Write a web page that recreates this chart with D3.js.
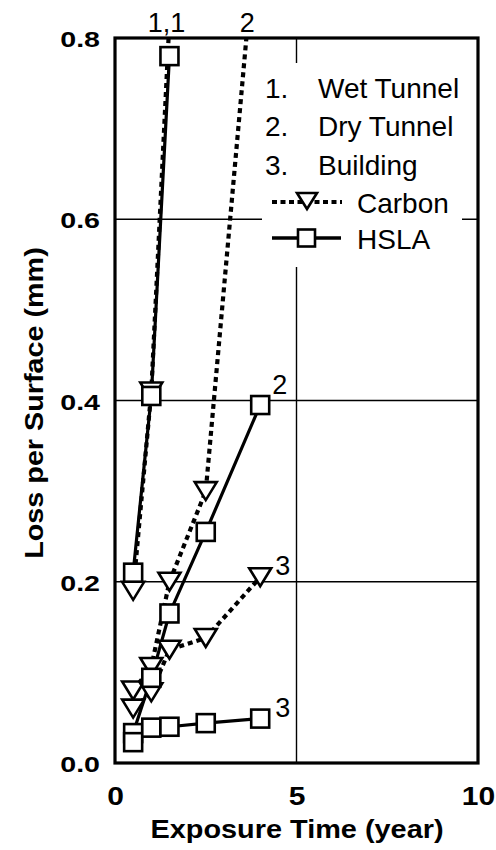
<!DOCTYPE html>
<html>
<head>
<meta charset="utf-8">
<script src="https://cdn.jsdelivr.net/npm/d3@7"></script>
<style>
  html, body { margin: 0; padding: 0; background: #fff; }
  svg { display: block; }
  text { font-family: "Liberation Sans", Arial, Helvetica, sans-serif; fill: #000; }
</style>
</head>
<body>
<script>
// Exposure times (years) at which coupons were measured
const years = [0.5, 1, 1.5, 2.5, 4];

// Carbon steel, loss per surface (mm)
const carbonWet = [0.19, 0.41, 0.82];
const carbonDry = [0.08, 0.106, 0.2, 0.3, 0.97];
const carbonBuilding = [0.06, 0.078, 0.125, 0.138, 0.205];

// HSLA steel, loss per surface (mm)
const hslaWet = [0.21, 0.405, 0.78];
const hslaDry = [0.033, 0.094, 0.165, 0.255, 0.395];
const hslaBuilding = [0.023, 0.039, 0.04, 0.044, 0.049];

// Axis ticks
const xTicks = [0, 5, 10];
const yTicks = [0.0, 0.2, 0.4, 0.6, 0.8];
const xGrid = [5];
const yGrid = [0.2, 0.4, 0.6];

// Environment key
const envKeys = ["1.", "2.", "3."];
const envNames = ["Wet Tunnel", "Dry Tunnel", "Building"];
const steelNames = ["Carbon", "HSLA"];

const W = 496, H = 850;
const plot = { left: 115, right: 478, top: 38, bottom: 763 };

const svg = d3.select("body").append("svg")
  .attr("width", W).attr("height", H);

const x = d3.scaleLinear().domain([0, 10]).range([plot.left, plot.right]);
const y = d3.scaleLinear().domain([0, 0.8]).range([plot.bottom, plot.top]);

const pts = (vals) => vals.map((v, i) => [years[i], v]);

const series = [
  { steel: "Carbon", env: 1, data: pts(carbonWet) },
  { steel: "Carbon", env: 2, data: pts(carbonDry) },
  { steel: "Carbon", env: 3, data: pts(carbonBuilding) },
  { steel: "HSLA", env: 1, data: pts(hslaWet) },
  { steel: "HSLA", env: 2, data: pts(hslaDry) },
  { steel: "HSLA", env: 3, data: pts(hslaBuilding) }
];

svg.append("defs").append("clipPath").attr("id", "plotClip")
  .append("rect")
  .attr("x", plot.left).attr("y", plot.top)
  .attr("width", plot.right - plot.left)
  .attr("height", plot.bottom - plot.top);

// Grid lines
const grid = svg.append("g").attr("stroke", "#000").attr("stroke-width", 1.4);
grid.selectAll("line.h").data(yGrid).join("line").attr("class", "h")
  .attr("x1", plot.left).attr("x2", plot.right)
  .attr("y1", d => y(d)).attr("y2", d => y(d));
grid.selectAll("line.v").data(xGrid).join("line").attr("class", "v")
  .attr("x1", d => x(d)).attr("x2", d => x(d))
  .attr("y1", plot.top).attr("y2", plot.bottom);

// Legend panel (white backing over the grid)
const legend = svg.append("g");
legend.append("rect")
  .attr("x", 262).attr("y", 63).attr("width", 200).attr("height", 204)
  .attr("fill", "#fff");

const fs = 28, rowGap = 38.3;
envKeys.forEach((k, i) => {
  const by = 98 + i * rowGap;
  legend.append("text").attr("x", 265).attr("y", by).attr("font-size", fs).text(k);
  legend.append("text").attr("x", 318).attr("y", by).attr("font-size", fs).text(envNames[i]);
});

// Data layer
const data = svg.append("g").attr("clip-path", "url(#plotClip)");
const line = d3.line().x(d => x(d[0])).y(d => y(d[1]));

data.selectAll("path.carbon").data(series.filter(s => s.steel === "Carbon")).join("path")
  .attr("class", "carbon")
  .attr("d", d => line(d.data))
  .attr("fill", "none").attr("stroke", "#000")
  .attr("stroke-width", 4.2).attr("stroke-dasharray", "5,4");

data.selectAll("path.hsla").data(series.filter(s => s.steel === "HSLA")).join("path")
  .attr("class", "hsla")
  .attr("d", d => line(d.data))
  .attr("fill", "none").attr("stroke", "#000")
  .attr("stroke-width", 3.2);

const triPath = "M-11,-9L11,-9L0,9Z";
const sq = 18;

series.filter(s => s.steel === "Carbon").forEach(s => {
  data.selectAll(null).data(s.data).join("path")
    .attr("transform", d => `translate(${x(d[0])},${y(d[1])})`)
    .attr("d", triPath)
    .attr("fill", "#fff").attr("stroke", "#000").attr("stroke-width", 2.6)
    .attr("stroke-linejoin", "miter");
});
series.filter(s => s.steel === "HSLA").forEach(s => {
  data.selectAll(null).data(s.data).join("rect")
    .attr("x", d => x(d[0]) - sq / 2).attr("y", d => y(d[1]) - sq / 2)
    .attr("width", sq).attr("height", sq)
    .attr("fill", "#fff").attr("stroke", "#000").attr("stroke-width", 2.6);
});

// Plot frame
svg.append("rect")
  .attr("x", plot.left).attr("y", plot.top)
  .attr("width", plot.right - plot.left).attr("height", plot.bottom - plot.top)
  .attr("fill", "none").attr("stroke", "#000").attr("stroke-width", 3.2);

// Axes (labels only; frame drawn above)
const xAxis = svg.append("g").attr("transform", `translate(0,${plot.bottom})`)
  .call(d3.axisBottom(x).tickValues(xTicks).tickSize(0).tickFormat(d3.format("d")));
xAxis.select(".domain").remove();
xAxis.selectAll("text")
  .attr("y", 42).attr("dy", null)
  .attr("font-size", 25).attr("font-weight", "bold")
  .attr("font-family", "Liberation Sans, Arial, sans-serif")
  .attr("transform", "scale(1.2,1)");

const yStretch = 1.3;
const yAxis = svg.append("g").attr("transform", `translate(${plot.left},0)`)
  .call(d3.axisLeft(y).tickValues(yTicks).tickSize(0).tickFormat(d3.format(".1f")));
yAxis.select(".domain").remove();
yAxis.selectAll("text")
  .attr("x", -15 / yStretch).attr("y", 8.5).attr("dy", null)
  .attr("font-size", 22).attr("font-weight", "bold")
  .attr("font-family", "Liberation Sans, Arial, sans-serif")
  .attr("transform", `scale(${yStretch},1)`);

// Axis titles
svg.append("text")
  .attr("transform", `translate(297,838) scale(1.155,1)`)
  .attr("text-anchor", "middle")
  .attr("font-size", 25).attr("font-weight", "bold")
  .text("Exposure Time (year)");

svg.append("text")
  .attr("transform", `translate(43,403) rotate(-90) scale(1.15,1)`)
  .attr("text-anchor", "middle")
  .attr("font-size", 25).attr("font-weight", "bold")
  .text("Loss per Surface (mm)");

// Environment tags where lines leave the top of the plot
function topCrossing(d) {
  for (let i = 1; i < d.length; i++) {
    const [x0, y0] = d[i - 1], [x1, y1] = d[i];
    if (y0 <= 0.8 && y1 > 0.8) return x0 + (0.8 - y0) * (x1 - x0) / (y1 - y0);
  }
  return d[d.length - 1][0];
}
const tagFs = 27;
svg.append("text")
  .attr("x", x(topCrossing(series[0].data)) - 2).attr("y", 32)
  .attr("text-anchor", "middle").attr("font-size", tagFs).text("1,1");
svg.append("text")
  .attr("x", x(topCrossing(series[1].data)) + 1).attr("y", 32)
  .attr("text-anchor", "middle").attr("font-size", tagFs).text("2");

// Environment tags at series ends
const endTags = [
  { s: series[4], text: "2", dx: 12, dy: -11 },
  { s: series[2], text: "3", dx: 15, dy: -2 },
  { s: series[5], text: "3", dx: 15, dy: -2 }
];
endTags.forEach(t => {
  const last = t.s.data[t.s.data.length - 1];
  svg.append("text")
    .attr("x", x(last[0]) + t.dx).attr("y", y(last[1]) + t.dy)
    .attr("font-size", tagFs).text(t.text);
});

// Steel-type legend rows
const keyY = [202, 238];
legend.append("line")
  .attr("x1", 272).attr("x2", 342).attr("y1", keyY[0]).attr("y2", keyY[0])
  .attr("stroke", "#000").attr("stroke-width", 4.2).attr("stroke-dasharray", "5,3.5");
legend.append("path")
  .attr("transform", `translate(307,${keyY[0] - 1})`)
  .attr("d", "M-10,-8L10,-8L0,8Z")
  .attr("fill", "#fff").attr("stroke", "#000").attr("stroke-width", 2.6);
legend.append("line")
  .attr("x1", 272).attr("x2", 341).attr("y1", keyY[1]).attr("y2", keyY[1])
  .attr("stroke", "#000").attr("stroke-width", 3.5);
legend.append("rect")
  .attr("x", 298).attr("y", keyY[1] - 8.5).attr("width", 17).attr("height", 17)
  .attr("fill", "#fff").attr("stroke", "#000").attr("stroke-width", 2.6);
steelNames.forEach((n, i) => {
  legend.append("text").attr("x", 357).attr("y", keyY[i] + 11)
    .attr("font-size", fs).text(n);
});
</script>
</body>
</html>
